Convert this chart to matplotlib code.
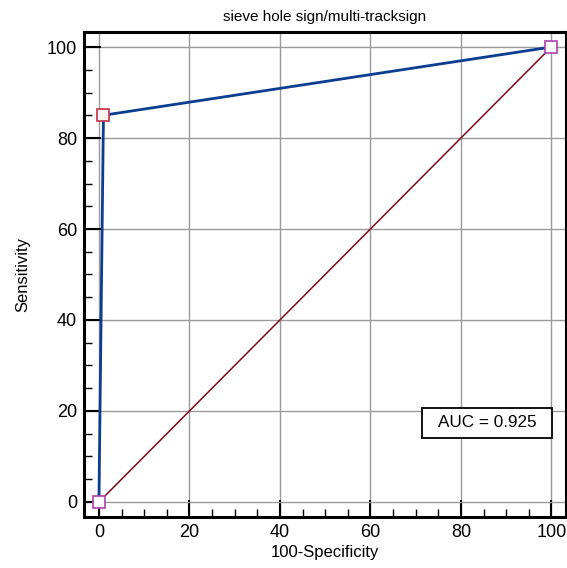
import matplotlib
matplotlib.use("Agg")
import matplotlib.pyplot as plt
from matplotlib.ticker import MultipleLocator
from matplotlib.patches import Rectangle

fpr = [0, 1, 100]
tpr = [0, 85, 100]
diag_x = [0, 100]
diag_y = [0, 100]
auc_text = "AUC = 0.925"
title = "sieve hole sign/multi-tracksign"

plt.rcParams['font.family'] = ['Liberation Sans', 'DejaVu Sans']
fig = plt.figure(figsize=(5.67, 5.68), dpi=100)
ax = fig.add_axes([84/567, 1-517/568, (567-84)/567 - 0.002, (517-32)/568])
ax.set_xlim(-3.3, 103.2)
ax.set_ylim(-3.3, 103.3)

ax.grid(True, color='#9a9a9a', linewidth=1)
ax.set_axisbelow(True)
ax.plot(diag_x, diag_y, color='#7a0a1a', linewidth=1.1, zorder=2)
ax.plot(fpr, tpr, color='#0b3d91', linewidth=2, zorder=3)
ax.plot([fpr[1]], [tpr[1]], marker='s', markersize=8, markerfacecolor='#fff5f0',
        markeredgecolor='#c0304a', markeredgewidth=1.2, linestyle='none', zorder=4)
ax.plot([fpr[0], fpr[2]], [tpr[0], tpr[2]], marker='s', markersize=8, markerfacecolor='white',
        markeredgecolor='#b040b0', markeredgewidth=1.2, linestyle='none', zorder=4)

ax.xaxis.set_major_locator(MultipleLocator(20))
ax.yaxis.set_major_locator(MultipleLocator(20))
ax.xaxis.set_minor_locator(MultipleLocator(5))
ax.yaxis.set_minor_locator(MultipleLocator(5))
ax.tick_params(which='major', direction='in', length=12, width=1.5, labelsize=13)
ax.tick_params(axis='x', which='major', pad=5)
ax.tick_params(axis='y', which='major', pad=5)
ax.tick_params(which='minor', direction='in', length=6, width=1)
ax.tick_params(top=False, right=False, which='both')
for s in ['left', 'bottom', 'top']:
    ax.spines[s].set_linewidth(2.2)
ax.spines['right'].set_linewidth(1.5)

ax.set_xlabel('100-Specificity', fontsize=12, labelpad=3)
ax.set_ylabel('Sensitivity', fontsize=12, labelpad=12)
ax.set_title(title, fontsize=11, pad=8)

ax.add_patch(Rectangle((0.702, 0.163), 0.269, 0.062, transform=ax.transAxes,
                       facecolor='white', edgecolor='black', linewidth=1.3, zorder=5))
ax.text(0.836, 0.194, auc_text, transform=ax.transAxes, fontsize=12.3, ha='center', va='center',
        zorder=6)

fig.savefig('out.png', dpi=100)
